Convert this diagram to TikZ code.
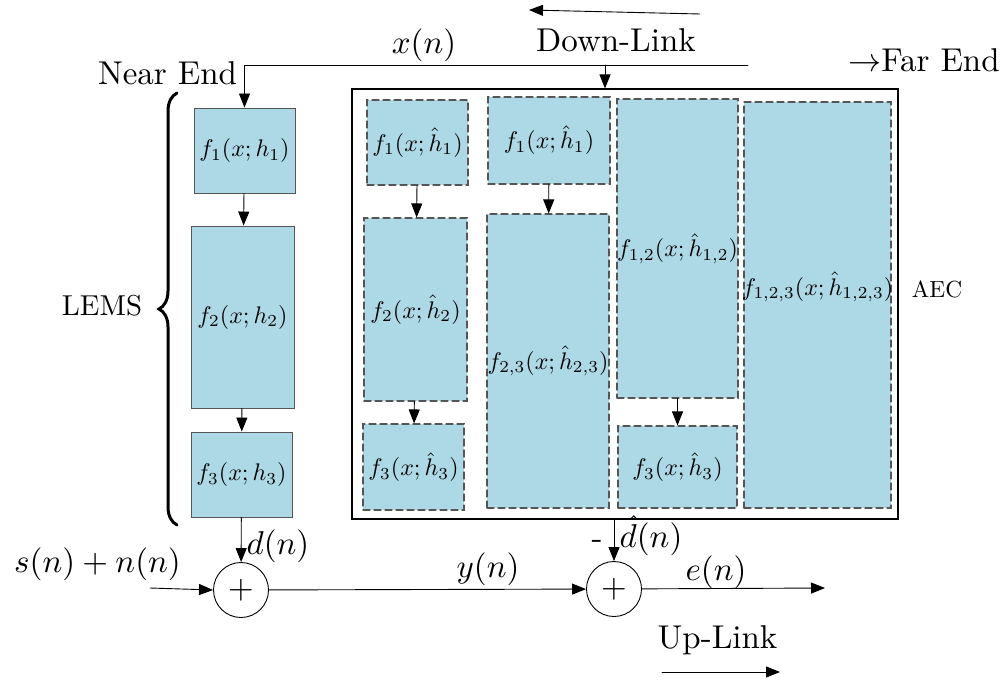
\RequirePackage{fix-cm}
\documentclass[tikz,border=0pt]{standalone}
\usepackage{amsmath,amssymb}
\usetikzlibrary{arrows.meta,decorations.pathreplacing}
\definecolor{lightblue}{RGB}{173,216,230}
\definecolor{edgegray}{RGB}{85,85,85}

% scaled 10pt text, as in the drawing
\newcommand{\bigtxt}[1]{\scalebox{3.3}{#1}}
\newcommand{\boxtxt}[1]{\scalebox{2.4}{$#1$}}

\tikzset{
  lemsbox/.style={draw=edgegray,fill=lightblue,line width=0.9pt,inner sep=0pt},
  aecbox/.style={draw=edgegray,fill=lightblue,line width=1.1pt,dash pattern=on 7pt off 4pt,
    inner sep=0pt},
  sumnode/.style={circle,draw,line width=0.9pt,inner sep=0pt,minimum size=55pt},
  sig/.style={-{Triangle[length=14pt,width=11pt]},line width=0.9pt},
  bigtext/.style={inner sep=0pt,anchor=base}
}

\begin{document}
\begin{tikzpicture}[x=1pt,y=-1pt,line cap=round]
\useasboundingbox (0,0) rectangle (1006,682);

% LEMS chain
\node[lemsbox,minimum width=101pt,minimum height=85pt] (f1) at (244.5,150.5) {\boxtxt{f_1(x;h_1)}};
\node[lemsbox,minimum width=103pt,minimum height=182pt] (f2) at (242.5,317) {\boxtxt{f_2(x;h_2)}};
\node[lemsbox,minimum width=101pt,minimum height=85pt] (f3) at (241.5,474.5) {\boxtxt{f_3(x;h_3)}};

% AEC frame and its models
\node[draw,line width=1.1pt,minimum width=546pt,minimum height=430pt,inner sep=0pt] (aec) at (625,304) {};
\node[aecbox,minimum width=101pt,minimum height=85pt] (a1) at (417.5,142.5) {\boxtxt{f_1(x;\hat{h}_1)}};
\node[aecbox,minimum width=103pt,minimum height=183pt] (a2) at (415.5,309.5) {\boxtxt{f_2(x;\hat{h}_2)}};
\node[aecbox,minimum width=101pt,minimum height=86pt] (a3) at (413.5,467) {\boxtxt{f_3(x;\hat{h}_3)}};
\node[aecbox,minimum width=122pt,minimum height=87pt] (b1) at (549,140.5) {\boxtxt{f_1(x;\hat{h}_1)}};
\node[aecbox,minimum width=122pt,minimum height=294pt] (b2) at (548,361) {\boxtxt{f_{2,3}(x;\hat{h}_{2,3})}};
\node[aecbox,minimum width=121pt,minimum height=299pt] (c1) at (677.5,248.5) {\boxtxt{f_{1,2}(x;\hat{h}_{1,2})}};
\node[aecbox,minimum width=119pt,minimum height=82pt] (c2) at (677.5,467) {\boxtxt{f_3(x;\hat{h}_3)}};
\node[aecbox,minimum width=147pt,minimum height=406pt,
  label={[inner sep=0pt,yshift=18pt]center:\boxtxt{f_{1,2,3}(x;\hat{h}_{1,2,3})}}] (d1) at (817.5,305) {};

\draw[sig] (a1) -- (a2);
\draw[sig] (a2) -- (a3);
\draw[sig] (b1) -- (b2);
\draw[sig] (c1) -- (c2);

% summing points
\node[sumnode] (sum1) at (241,590) {\bigtxt{$+$}};
\node[sumnode] (sum2) at (614,589) {\bigtxt{$+$}};

% down-link
\coordinate (xin) at (748,65);
\coordinate (tap) at (605,65);
\draw[sig] (xin) -| (f1.north);
\draw[sig] (tap) -- (tap |- aec.north);
\draw[sig] (f1) -- (f2);
\draw[sig] (f2) -- (f3);
\draw[sig] (f3) -- (sum1);

% up-link
\coordinate (sin) at (150,588);
\coordinate (eout) at (825,588);
\draw[sig] (sin) -- (sum1.west);
\draw[sig] (sum1) -- (sum2);
\draw[sig] (sum2.north |- aec.south) -- (sum2.north);
\draw[sig] (sum2) -- (eout);

% direction arrows
\coordinate (dlR) at (700,14);
\coordinate (dlL) at (529,10);
\coordinate (ulL) at (662,672);
\coordinate (ulR) at (780,672);
\draw[sig] (dlR) -- (dlL);
\draw[sig] (ulL) -- (ulR);

\draw[decorate,decoration={brace,amplitude=18pt},line width=3pt] (177,525) -- (177,93);

% labels
\node[bigtext] (lnear) at (167.5,85) {\bigtxt{Near End}};
\node[bigtext] (lfar) at (924,72) {\bigtxt{$\rightarrow$Far End}};
\node[bigtext] (lx) at (424,54) {\bigtxt{$x(n)$}};
\node[bigtext] (ldown) at (616,52) {\bigtxt{Down-Link}};
\node[bigtext] (lup) at (717.5,648) {\bigtxt{Up-Link}};
\node[bigtext] (ld) at (278,554) {\bigtxt{$d(n)$}};
\node[bigtext] (ls) at (97.5,572) {\bigtxt{$s(n)+n(n)$}};
\node[bigtext] (ly) at (488,577) {\bigtxt{$y(n)$}};
\node[bigtext] (le) at (716,580) {\bigtxt{$e(n)$}};
\node[bigtext] (ldh) at (651,547) {\bigtxt{$\hat{d}(n)$}};
\node[bigtext] (lminus) at (597,548) {\bigtxt{-}};
\node[bigtext] (llems) at (102,315) {\scalebox{2.88}{LEMS}};
\node[bigtext] (laec) at (937,297) {\scalebox{2.33}{AEC}};
\end{tikzpicture}
\end{document}
